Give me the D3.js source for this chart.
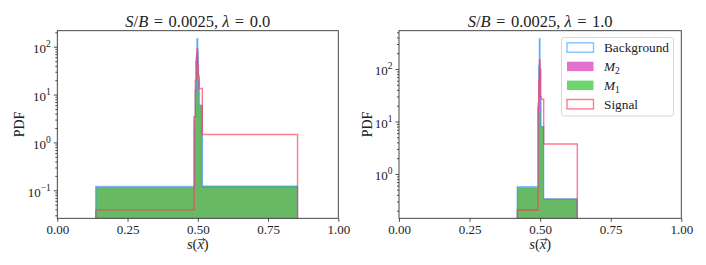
<!DOCTYPE html>
<html><head><meta charset="utf-8">
<script src="https://cdn.jsdelivr.net/npm/d3@7"></script>
<style>
body{margin:0;background:#fff;}
svg text{fill:#222;}
</style></head>
<body><svg id="c" width="706" height="265" font-family="Liberation Serif"></svg>
<script>
// ---------- data ----------
const xTicks = [0, 0.25, 0.5, 0.75, 1.0];
const seriesNames = ["Background", "M2", "M1", "Signal"];

// left panel (lambda = 0.0)
const leftTitle = "0.0";
const leftEdges = [0.137, 0.487, 0.491, 0.494, 0.497, 0.4995, 0.502, 0.505, 0.516, 0.855];
const leftBg  = [0.120, 3.5, 12, 60, 145, 80, 25, 6.0, 0.117];
const leftM2  = [0.118, 3.0, 15, 70, 150, 60, 20, 6.0, 0.120];
const leftM1  = [0.113, 2.5, 8, 30, 60, 30, 12, 5.8, 0.126];
const leftSig = [0.039, 3.4, 20, 50, 90, 40, 22, 13.4, 1.47];
const leftYDomain = [0.026, 216];
const leftYTicks = [0.1, 1, 10, 100];

// right panel (lambda = 1.0)
const rightTitle = "1.0";
const rightEdges = [0.419, 0.4925, 0.495, 0.4975, 0.4995, 0.5015, 0.503, 0.5125, 0.6316];
const rightBg  = [0.573, 22, 120, 380, 100, 30, 8, 0.33];
const rightM2  = [0.560, 20, 110, 370, 90, 25, 8, 0.34];
const rightM1  = [0.550, 15, 17, 17, 15, 10, 8, 0.339];
const rightSig = [0.206, 18, 60, 150, 100, 30, 26.5, 3.73];
const rightYDomain = [0.143, 537];
const rightYTicks = [1, 10, 100];

// ---------- styles ----------
const FONT = "Liberation Serif";
const colBg = "#1e90ff", colM2 = "#dd58c4", colM1 = "#4acc4a", colSig = "#ff3355";

const svg = d3.select("#c");

function supLabel(sel, d) {
  const e = Math.round(Math.log10(d));
  sel.text(null);
  sel.append("tspan").text("10");
  sel.append("tspan").attr("dy", -6).attr("font-size", 9.5).text(e < 0 ? "\u2212" + (-e) : e);
}

function panel(cfg) {
  const g = svg.append("g");
  const x = d3.scaleLinear().domain([0, 1]).range([cfg.x0, cfg.x1]);
  const y = d3.scaleLog().domain(cfg.yDomain).range([cfg.y1, cfg.y0]);
  const id = "clip" + cfg.key;
  svg.append("clipPath").attr("id", id).append("rect")
    .attr("x", cfg.x0).attr("y", cfg.y0).attr("width", cfg.x1 - cfg.x0).attr("height", cfg.y1 - cfg.y0);
  const plot = g.append("g").attr("clip-path", `url(#${id})`);

  const pts = (vals) => {
    const p = vals.map((v, i) => [cfg.edges[i], v]);
    p.push([cfg.edges[cfg.edges.length - 1], vals[vals.length - 1]]);
    return p;
  };
  const bottom = cfg.yDomain[0] / 10;
  const area = d3.area().curve(d3.curveStepAfter)
    .x(d => x(d[0])).y0(y(bottom)).y1(d => y(d[1]));
  const stepLine = (vals) => {
    const p = pts(vals);
    const full = [[p[0][0], bottom]].concat(p).concat([[p[p.length - 1][0], bottom]]);
    let dstr = `M${x(full[0][0])},${y(full[0][1])}`;
    for (let i = 1; i < full.length; i++) {
      const cur = full[i];
      if (i >= 2 && i < full.length - 1) dstr += `H${x(cur[0])}V${y(cur[1])}`;
      else dstr += `V${y(cur[1])}`;
    }
    return dstr;
  };

  plot.append("path").attr("d", area(pts(cfg.m2))).attr("fill", colM2).attr("fill-opacity", 0.85);
  plot.append("path").attr("d", area(pts(cfg.m1))).attr("fill", colM1).attr("fill-opacity", 0.8);
  plot.append("path").attr("d", stepLine(cfg.bg)).attr("fill", "none")
    .attr("stroke", colBg).attr("stroke-opacity", 0.55).attr("stroke-width", 1.4);
  plot.append("path").attr("d", stepLine(cfg.sig)).attr("fill", "none")
    .attr("stroke", colSig).attr("stroke-opacity", 0.65).attr("stroke-width", 1.4);

  // axes
  const xa = g.append("g").attr("transform", `translate(0,${cfg.y1})`)
    .call(d3.axisBottom(x).tickValues(xTicks).tickFormat(d3.format(".2f")).tickSize(3.5).tickPadding(2.5));
  xa.attr("font-family", FONT).attr("font-size", 13);
  const ya = g.append("g").attr("transform", `translate(${cfg.x0},0)`)
    .call(d3.axisLeft(y).tickValues(cfg.yTicks).tickSize(3.5).tickPadding(3));
  ya.attr("font-family", FONT).attr("font-size", 13);
  ya.selectAll(".tick text").attr("dy", "0.45em").each(function (d) { supLabel(d3.select(this), d); });
  const minor = [];
  for (let e = -3; e <= 3; e++) for (let m = 2; m <= 9; m++) {
    const v = m * Math.pow(10, e);
    if (v >= cfg.yDomain[0] && v <= cfg.yDomain[1]) minor.push(v);
  }
  g.append("g").attr("transform", `translate(${cfg.x0},0)`)
    .call(d3.axisLeft(y).tickValues(minor).tickSize(2).tickFormat(""));
  g.selectAll(".domain").remove();
  g.selectAll(".tick line").attr("stroke", "#222").attr("stroke-width", 0.8);

  g.append("rect").attr("x", cfg.x0).attr("y", cfg.y0).attr("width", cfg.x1 - cfg.x0).attr("height", cfg.y1 - cfg.y0)
    .attr("fill", "none").attr("stroke", "#333").attr("stroke-width", 0.9);

  // title
  const sp = "\u2004";
  const t = g.append("text").attr("x", (cfg.x0 + cfg.x1) / 2).attr("y", 26.5).attr("text-anchor", "middle")
    .attr("font-size", 16.5).attr("font-family", FONT);
  t.append("tspan").attr("font-style", "italic").text("S");
  t.append("tspan").text("/");
  t.append("tspan").attr("font-style", "italic").text("B");
  t.append("tspan").text(sp + "=" + sp + "0.0025, ");
  t.append("tspan").attr("font-style", "italic").text("\u03bb");
  t.append("tspan").text(sp + "=" + sp + cfg.lam);

  // x label: s(x) with vector arrow above x
  const cx = (cfg.x0 + cfg.x1) / 2;
  const xl = g.append("text").attr("x", cx).attr("y", 249).attr("text-anchor", "middle")
    .attr("font-size", 14.5).attr("font-family", FONT);
  xl.append("tspan").attr("font-style", "italic").text("s");
  xl.append("tspan").text("(");
  xl.append("tspan").attr("font-style", "italic").text("x");
  xl.append("tspan").text(")");
  const ext = xl.node().getExtentOfChar(2);
  const ax = ext.x + ext.width / 2 + 0.7, ay = 239.6;
  g.append("path").attr("d", `M${ax - 3.3},${ay}H${ax + 3.3}M${ax + 1.4},${ay - 1.8}L${ax + 3.5},${ay}L${ax + 1.4},${ay + 1.8}`)
    .attr("fill", "none").attr("stroke", "#222").attr("stroke-width", 0.8);

  // y label
  g.append("text").attr("transform", `translate(${cfg.ylabX},${(cfg.y0 + cfg.y1) / 2}) rotate(-90)`)
    .attr("text-anchor", "middle").attr("font-size", 14).attr("font-family", FONT).text("PDF");
  return {x, y, g};
}

panel({key: "L", x0: 57.3, x1: 338.3, y0: 30.7, y1: 218.3, yDomain: leftYDomain, yTicks: leftYTicks,
  edges: leftEdges, bg: leftBg, m2: leftM2, m1: leftM1, sig: leftSig, lam: leftTitle, ylabX: 24});
panel({key: "R", x0: 399, x1: 681.3, y0: 30.7, y1: 218.3, yDomain: rightYDomain, yTicks: rightYTicks,
  edges: rightEdges, bg: rightBg, m2: rightM2, m1: rightM1, sig: rightSig, lam: rightTitle, ylabX: 372});

// legend
const lg = svg.append("g").attr("font-family", FONT);
lg.append("rect").attr("x", 561.5).attr("y", 37.5).attr("width", 112).attr("height", 78.5).attr("rx", 2.5)
  .attr("fill", "#fff").attr("fill-opacity", 0.8).attr("stroke", "#d5d5d5").attr("stroke-width", 0.9);
const legItems = [
  {name: seriesNames[0], fill: "none", stroke: colBg, so: 0.55, fo: 0},
  {name: seriesNames[1], fill: colM2, stroke: "none", fo: 0.85},
  {name: seriesNames[2], fill: colM1, stroke: "none", fo: 0.8},
  {name: seriesNames[3], fill: "none", stroke: colSig, so: 0.65, fo: 0}
];
legItems.forEach((it, i) => {
  const cy = 47.5 + i * 18.9;
  lg.append("rect").attr("x", 567).attr("y", cy - 4.7).attr("width", 26.5).attr("height", 9.4)
    .attr("fill", it.fill).attr("fill-opacity", it.fo)
    .attr("stroke", it.stroke).attr("stroke-opacity", it.so || 1).attr("stroke-width", 1.4);
  const t = lg.append("text").attr("x", 604).attr("y", cy + 4.5).attr("font-size", 13.3);
  if (it.name === "M2" || it.name === "M1") {
    t.append("tspan").attr("font-style", "italic").text("M");
    t.append("tspan").attr("font-size", 9.5).attr("dy", 3).text(it.name.slice(1));
  } else t.text(it.name);
});
</script></body></html>
